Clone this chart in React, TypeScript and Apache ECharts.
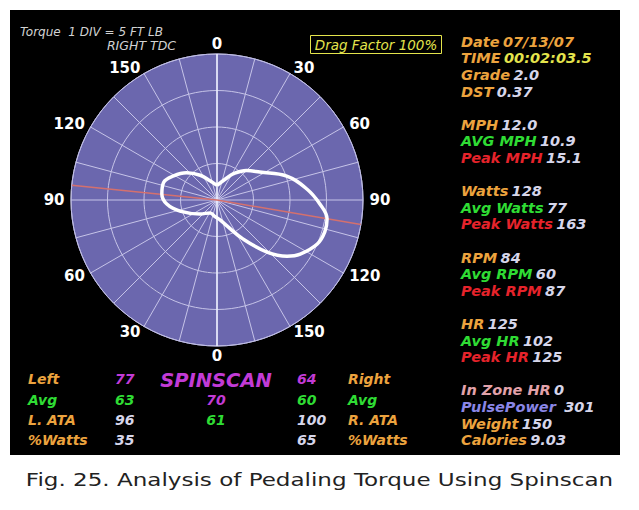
import React, { useEffect, useRef } from 'react';
import * as echarts from 'echarts';

// Pedaling torque curve (angle clockwise from right TDC in degrees, torque in ft-lb)
const curveAngles = [0, 24, 31.6, 45, 56.9, 71.1, 83, 92.2, 99.8, 106.5, 113.7, 123, 128.7, 136.1, 146.3, 159, 172, 186.7, 208, 230.5, 253.4, 265.4, 276.2, 288.2, 299.1, 311.7, 325.8, 340, 352.9, 360];
const curveTorque = [2.0, 3.3, 4.2, 5.7, 7.0, 10.1, 12.4, 14.1, 15.3, 15.4, 15.0, 13.6, 12.3, 9.9, 6.4, 3.8, 2.7, 2.3, 2.0, 3.0, 5.3, 6.9, 7.6, 7.7, 6.8, 5.6, 4.1, 2.8, 2.2, 2.0];

// Reference lines
const crankLineAngles = [99.7, 0, 275.8];
const crankLineRadius = [20, 0, 20];
const tdcAngles = [0, 180];
const tdcRadius = [20, 20];

// Crank angle tick labels
const labelAngles = [0, 30, 60, 90, 120, 150, 180, 210, 240, 270, 300, 330];
const angleLabels = ['0', '30', '60', '90', '120', '150', '0', '30', '60', '90', '120', '150'];

// Right stats panel ('' = blank line)
const statLabels = ['Date', 'TIME', 'Grade', 'DST', '', 'MPH', 'AVG MPH', 'Peak MPH', '', 'Watts', 'Avg Watts', 'Peak Watts', '', 'RPM', 'Avg RPM', 'Peak RPM', '', 'HR', 'Avg HR', 'Peak HR', '', 'In Zone HR', 'PulsePower ', 'Weight', 'Calories'];
const statValues = ['07/13/07', '00:02:03.5', '2.0', '0.37', '', '12.0', '10.9', '15.1', '', '128', '77', '163', '', '84', '60', '87', '', '125', '102', '125', '', '0', '301', '150', '9.03'];
const statLabelColors = ['orange', 'orange', 'orange', 'orange', '', 'orange', 'green', 'red', '', 'orange', 'green', 'red', '', 'orange', 'green', 'red', '', 'orange', 'green', 'red', '', 'pink', 'blue', 'orange', 'orange'];
const statValueColors = ['orange', 'yellow', 'gray', 'gray', '', 'gray', 'gray', 'gray', '', 'gray', 'gray', 'gray', '', 'gray', 'gray', 'gray', '', 'gray', 'gray', 'gray', '', 'gray', 'gray', 'gray', 'gray'];

// Bottom spinscan table
const leftLabels = ['Left', 'Avg', 'L. ATA', '%Watts'];
const leftLabelColors = ['orange', 'green', 'orange', 'orange'];
const leftValues = ['77', '63', '96', '35'];
const leftValueColors = ['magenta', 'green', 'gray', 'gray'];
const centerValues = ['SPINSCAN', '70', '61', ''];
const centerValueColors = ['magenta', 'magenta', 'green', 'green'];
const rightValues = ['64', '60', '100', '65'];
const rightValueColors = ['magenta', 'green', 'gray', 'gray'];
const rightLabels = ['Right', 'Avg', 'R. ATA', '%Watts'];
const rightLabelColors = ['orange', 'green', 'orange', 'orange'];

const palette: Record<string, string> = {
  orange: '#eca33e',
  yellow: '#e4e44c',
  gray: '#d6d6ea',
  green: '#2fdc34',
  red: '#e6232b',
  pink: '#e2a2aa',
  blue: '#8a86e6',
  magenta: '#c23bd6',
};

const FONT = 'DejaVu Sans';
const CX = 217;
const CY = 200;
const R = 146;
const RMAX = 20;

function buildGraphics() {
  const els: any[] = [];
  els.push({
    type: 'text', x: 20, y: 32,
    style: { text: 'Torque  1 DIV = 5 FT LB', fill: '#d2d2d2', fontSize: 12, fontStyle: 'italic', fontFamily: FONT, textVerticalAlign: 'middle' },
  });
  els.push({
    type: 'text', x: 176, y: 45,
    style: { text: 'RIGHT TDC', fill: '#d2d2d2', fontSize: 12.5, fontStyle: 'italic', fontFamily: FONT, textAlign: 'right', textVerticalAlign: 'middle' },
  });
  els.push({
    type: 'rect', shape: { x: 310.5, y: 35.5, width: 131, height: 18 },
    style: { fill: 'none', stroke: '#e4e44c', lineWidth: 1 },
  });
  els.push({
    type: 'text', x: 376, y: 44.5,
    style: { text: 'Drag Factor 100%', fill: '#e4e44c', fontSize: 13.5, fontStyle: 'italic', fontFamily: FONT, textAlign: 'center', textVerticalAlign: 'middle' },
  });
  statLabels.forEach((lab, i) => {
    if (!lab) return;
    els.push({
      type: 'text', x: 461, y: 41.7 + i * 16.6,
      style: {
        text: `{a|${lab}} {b|${statValues[i]}}`,
        textVerticalAlign: 'middle',
        rich: {
          a: { fill: palette[statLabelColors[i]], fontSize: 14.5, fontWeight: 'bold', fontStyle: 'italic', fontFamily: FONT },
          b: { fill: palette[statValueColors[i]], fontSize: 14.5, fontWeight: 'bold', fontStyle: 'italic', fontFamily: FONT },
        },
      },
    });
  });
  const rowY = [379, 399.5, 419.5, 439.5];
  const cell = (text: string, color: string, x: number, y: number, align: string, size = 14) => {
    if (!text) return;
    els.push({
      type: 'text', x, y,
      style: { text, fill: palette[color], fontSize: size, fontWeight: 'bold', fontStyle: 'italic', fontFamily: FONT, textAlign: align, textVerticalAlign: 'middle' },
    });
  };
  for (let i = 0; i < 4; i++) {
    cell(leftLabels[i], leftLabelColors[i], 28, rowY[i], 'left');
    cell(leftValues[i], leftValueColors[i], 115, rowY[i], 'left');
    cell(centerValues[i], centerValueColors[i], 216, rowY[i] + (i === 0 ? 1 : 0), 'center', i === 0 ? 19.5 : 14);
    cell(rightValues[i], rightValueColors[i], 297, rowY[i], 'left');
    cell(rightLabels[i], rightLabelColors[i], 348, rowY[i], 'left');
  }
  els.push({
    type: 'text', x: 319.5, y: 480, scaleX: 1.28,
    style: { text: 'Fig. 25. Analysis of Pedaling Torque Using Spinscan', fill: '#222', fontSize: 18, fontFamily: FONT, textAlign: 'center', textVerticalAlign: 'middle' },
  });
  return els;
}

function buildAngleLabelData() {
  return labelAngles.map((a, i) => {
    const rad = (a * Math.PI) / 180;
    const s = Math.sin(rad);
    const c = Math.cos(rad);
    const vertical = Math.abs(s) < 0.3;
    const rPx = vertical ? 148 : 152;
    const position = vertical ? (c > 0 ? 'top' : 'bottom') : s > 0 ? 'right' : 'left';
    return { name: angleLabels[i], value: [(rPx / R) * RMAX, a], label: { position } };
  });
}

export default function App() {
  const ref = useRef<HTMLDivElement>(null);
  useEffect(() => {
    const chart = echarts.init(ref.current!, undefined, { renderer: 'svg' });
    const gridLine = { color: '#c6c4e8', width: 1 };
    const option: any = {
      animation: false,
      polar: [
        { center: [CX, CY], radius: R },
        { center: [CX, CY], radius: R },
      ],
      angleAxis: [
        {
          polarIndex: 0, type: 'value', min: 0, max: 360, interval: 15, startAngle: 90, clockwise: true,
          axisLine: { show: false }, axisTick: { show: false }, axisLabel: { show: false }, splitLine: { show: false },
        },
        {
          polarIndex: 1, type: 'value', min: 0, max: 360, interval: 15, startAngle: 90, clockwise: true,
          axisLine: { show: true, lineStyle: { color: '#bdbbe4', width: 1 } },
          axisTick: { show: false }, axisLabel: { show: false },
          splitLine: { show: true, lineStyle: gridLine },
        },
      ],
      radiusAxis: [
        {
          polarIndex: 0, type: 'value', min: 0, max: RMAX, interval: 5,
          axisLine: { show: false }, axisTick: { show: false }, axisLabel: { show: false }, splitLine: { show: false },
          splitArea: { show: true, areaStyle: { color: ['#6b67ae'] } },
        },
        {
          polarIndex: 1, type: 'value', min: 0, max: RMAX, interval: 5,
          axisLine: { show: false }, axisTick: { show: false }, axisLabel: { show: false },
          splitLine: { show: true, lineStyle: gridLine },
        },
      ],
      graphic: buildGraphics(),
      series: [
        {
          type: 'line', coordinateSystem: 'polar', polarIndex: 1, symbol: 'none', silent: true,
          lineStyle: { color: '#eef0ff', width: 1.5 },
          data: tdcAngles.map((a, i) => [tdcRadius[i], a]),
        },
        {
          type: 'line', coordinateSystem: 'polar', polarIndex: 1, symbol: 'none', silent: true,
          lineStyle: { color: '#d4706e', width: 1.5 },
          data: crankLineAngles.map((a, i) => [crankLineRadius[i], a]),
        },
        {
          type: 'line', coordinateSystem: 'polar', polarIndex: 1, symbol: 'none', smooth: 0.4, silent: true,
          lineStyle: { color: '#ffffff', width: 3.5 },
          data: curveAngles.map((a, i) => [curveTorque[i], a]),
        },
        {
          type: 'scatter', coordinateSystem: 'polar', polarIndex: 1, silent: true, clip: false,
          symbolSize: 1, itemStyle: { color: '#000000', opacity: 1 },
          label: { show: true, formatter: '{b}', distance: 0, color: '#ffffff', opacity: 1, fontSize: 15, fontWeight: 'bold', fontFamily: FONT },
          data: buildAngleLabelData(),
        },
      ],
    };
    chart.setOption(option);
    return () => chart.dispose();
  }, []);
  return (
    <div style={{ position: 'absolute', left: 0, top: 0, width: 639, height: 510, background: '#ffffff' }}>
      <div style={{ position: 'absolute', left: 10, top: 10, width: 610, height: 445, background: '#000000' }} />
      <div ref={ref} style={{ position: 'absolute', left: 0, top: 0, width: 639, height: 510 }} />
    </div>
  );
}
